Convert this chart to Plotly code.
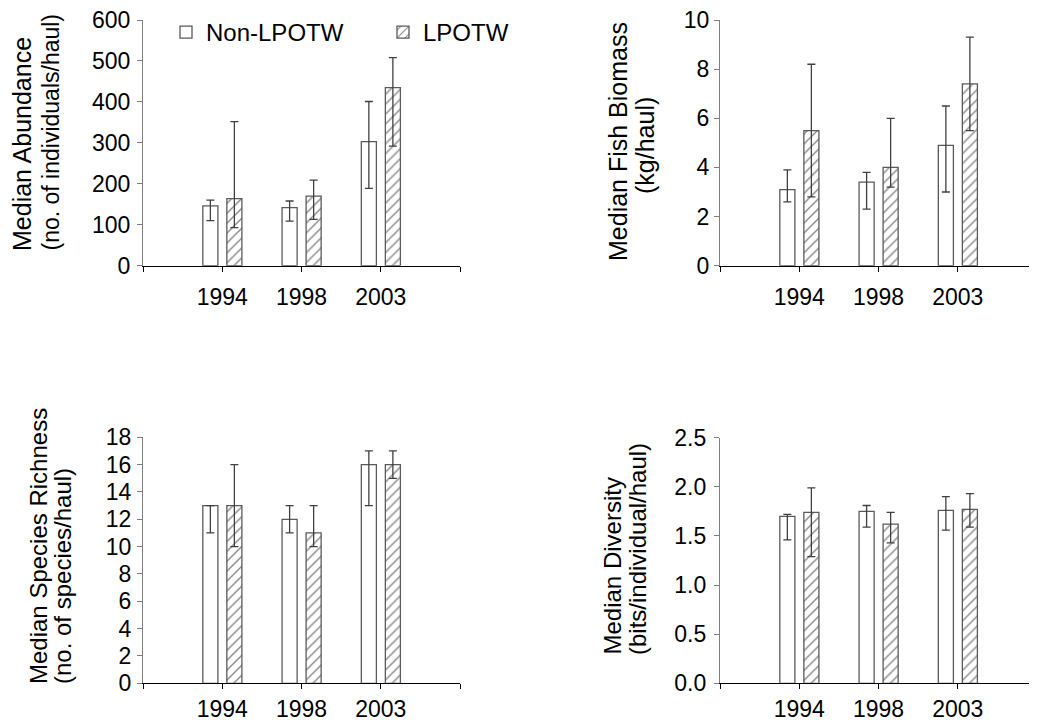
import plotly.graph_objects as go

# The page body adds an 8px margin; the figure is sized so it ends at the window edge.
OFF = 8
W, H = 1037 - OFF, 723 - OFF

years = ["1994", "1998", "2003"]
xpos = [1, 2, 3]

# Abundance
abund_non = [146, 142, 303]
abund_non_hi = [160, 158, 401]
abund_non_lo = [110, 109, 189]
abund_lp = [164, 170, 435]
abund_lp_hi = [352, 209, 508]
abund_lp_lo = [93, 113, 292]

# Biomass
bio_non = [3.1, 3.4, 4.9]
bio_non_hi = [3.9, 3.8, 6.5]
bio_non_lo = [2.6, 2.3, 3.0]
bio_lp = [5.5, 4.0, 7.4]
bio_lp_hi = [8.2, 6.0, 9.3]
bio_lp_lo = [2.8, 3.2, 5.5]

# Species richness
rich_non = [13, 12, 16]
rich_non_hi = [13, 13, 17]
rich_non_lo = [11, 11, 13]
rich_lp = [13, 11, 16]
rich_lp_hi = [16, 13, 17]
rich_lp_lo = [10, 10, 15]

# Diversity
div_non = [1.70, 1.75, 1.76]
div_non_hi = [1.72, 1.81, 1.90]
div_non_lo = [1.46, 1.59, 1.56]
div_lp = [1.74, 1.62, 1.77]
div_lp_hi = [1.99, 1.74, 1.93]
div_lp_lo = [1.29, 1.43, 1.59]

FONT = "Liberation Sans, Arial, sans-serif"
BAR_LINE = "#5a5a5a"
ERR_COL = "#404040"


def px_x(p):
    return (p - OFF) / W


def px_y(p):
    return 1 - (p - OFF) / H


panels = [
    dict(x=(143, 460), y=(20, 265.7), rng=[0, 600], dtick=100, fmt="d",
         non=(abund_non, abund_non_hi, abund_non_lo),
         lp=(abund_lp, abund_lp_hi, abund_lp_lo), standoff=2, xstand=6),
    dict(x=(720, 1037), y=(20, 265.7), rng=[0, 10], dtick=2, fmt="d",
         non=(bio_non, bio_non_hi, bio_non_lo),
         lp=(bio_lp, bio_lp_hi, bio_lp_lo), standoff=0, xstand=6),
    dict(x=(143, 460), y=(437.3, 683.3), rng=[0, 18], dtick=2, fmt="d",
         non=(rich_non, rich_non_hi, rich_non_lo),
         lp=(rich_lp, rich_lp_hi, rich_lp_lo), standoff=1, xstand=0),
    dict(x=(720, 1037), y=(437.7, 683.3), rng=[0, 2.5], dtick=0.5, fmt=".1f",
         non=(div_non, div_non_hi, div_non_lo),
         lp=(div_lp, div_lp_hi, div_lp_lo), standoff=3, xstand=0),
]

fig = go.Figure()
layout = dict(
    width=W, height=H,
    margin=dict(l=0, r=0, t=0, b=0, autoexpand=False),
    paper_bgcolor="white", plot_bgcolor="white",
    font=dict(family=FONT, size=23, color="#000"),
    barmode="overlay",
    showlegend=True,
    legend=dict(orientation="h", x=px_x(166), y=px_y(10), xanchor="left", yanchor="top",
                font=dict(size=24, family=FONT, color="#000"),
                entrywidth=172, entrywidthmode="pixels",
                bgcolor="rgba(0,0,0,0)", traceorder="normal"),
)

for i, p in enumerate(panels):
    n = "" if i == 0 else str(i + 1)
    xa, ya = "x" + n, "y" + n
    med, hi, lo = p["non"]
    fig.add_trace(go.Bar(
        x=xpos, y=med, xaxis=xa, yaxis=ya, name="Non-LPOTW",
        offset=-0.245, width=0.19,
        marker=dict(color="white", line=dict(color=BAR_LINE, width=1.3)),
        error_y=dict(type="data", symmetric=False,
                     array=[h - m for h, m in zip(hi, med)],
                     arrayminus=[m - l for m, l in zip(med, lo)],
                     color=ERR_COL, thickness=1.3, width=4),
        showlegend=(i == 0), legendgroup="non",
    ))
    med, hi, lo = p["lp"]
    fig.add_trace(go.Bar(
        x=xpos, y=med, xaxis=xa, yaxis=ya, name="LPOTW",
        offset=0.058, width=0.19,
        marker=dict(color="white", line=dict(color=BAR_LINE, width=1.3),
                    pattern=dict(shape="/", fgcolor="#111", bgcolor="white",
                                 size=7, solidity=0.2)),
        error_y=dict(type="data", symmetric=False,
                     array=[h - m for h, m in zip(hi, med)],
                     arrayminus=[m - l for m, l in zip(med, lo)],
                     color=ERR_COL, thickness=1.3, width=4),
        showlegend=(i == 0), legendgroup="lp",
    ))
    layout["xaxis" + n] = dict(
        domain=[px_x(p["x"][0]), min(1.0, px_x(p["x"][1]))],
        anchor=ya, range=[0, 4], tickmode="array",
        tickvals=[0, 1, 2, 3, 4], ticktext=[""] + years + [""],
        ticks="outside", ticklen=5, tickcolor="#000", tickwidth=1,
        showline=True, linecolor="#000", linewidth=1.3,
        showgrid=False, zeroline=False, fixedrange=True, automargin=False,
        ticklabelstandoff=p["xstand"], ticklabeloverflow="allow",
        tickfont=dict(size=23, family=FONT, color="#000"),
    )
    layout["yaxis" + n] = dict(
        domain=[px_y(p["y"][1]), px_y(p["y"][0])],
        anchor=xa, range=p["rng"], dtick=p["dtick"], tick0=0,
        tickformat=p["fmt"],
        ticks="outside", ticklen=5, tickcolor="#7f7f7f", tickwidth=1,
        showline=True, linecolor="#7f7f7f", linewidth=1.3,
        showgrid=False, zeroline=False, fixedrange=True, automargin=False,
        ticklabelstandoff=p["standoff"], ticklabeloverflow="allow",
        tickfont=dict(size=23, family=FONT, color="#000"),
    )

fig.update_layout(**layout)

titles = [
    ("Median Abundance", 22, 253, "bottom", 25),
    ("(no. of individuals/haul)", 50, 253, "bottom", 23),
    ("Median Fish Biomass", 618, 142, "middle", 25),
    ("(kg/haul)", 645, 146, "middle", 25),
    ("Median Species Richness", 38, 686, "bottom", 24),
    ("(no. of species/haul)", 62, 686, "bottom", 24),
    ("Median Diversity", 612, 657, "bottom", 24),
    ("(bits/individual/haul)", 637, 657, "bottom", 24),
]
for text, cx, cy, ya, fs in titles:
    fig.add_annotation(
        text=text, x=px_x(cx), y=px_y(cy), xref="paper", yref="paper",
        xanchor="center", yanchor=ya, textangle=-90, showarrow=False,
        font=dict(size=fs, family=FONT, color="#000"),
    )

fig.write_html("out.html")
